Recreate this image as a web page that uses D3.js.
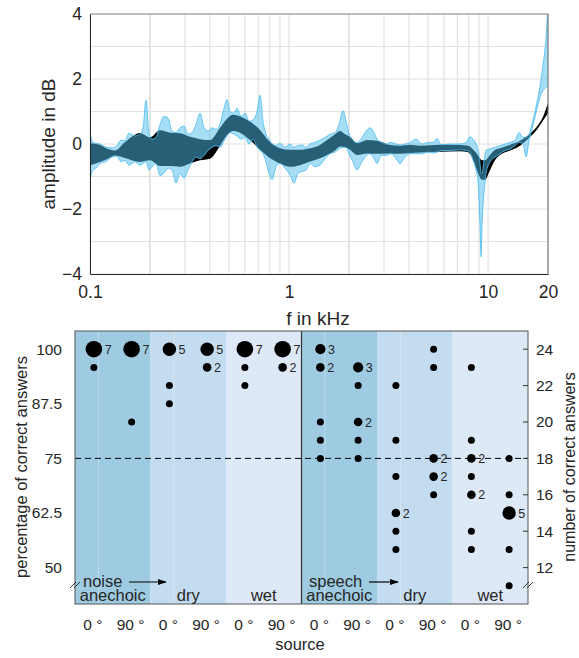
<!DOCTYPE html>
<html><head><meta charset="utf-8">
<script src="https://cdn.jsdelivr.net/npm/d3@7"></script>
<style>
body{margin:0;background:#fff}
text{font-family:"Liberation Sans",Arial,Helvetica,sans-serif;fill:#262626}
</style>
</head><body>
<svg id="c" width="579" height="658"></svg>
<script>
// ---------- top chart data (f in kHz, amplitude in dB) ----------
const blackFreq = [0.1,0.1123,0.1231,0.1336,0.1500,0.1784,0.2002,0.2248,0.2523,0.2833,0.3181,0.3571,0.4009,0.4501,0.4881,0.5231,0.5673,0.6368,0.7149,0.7842,0.9010,1.0116,1.1357,1.2750,1.4313,1.5523,1.7026,1.8040,1.9114,2.0252,2.1962,2.4660,2.7685,3.2168,3.6113,4.0542,4.5515,5.7363,7.2296,7.9316,8.5016,8.9058,9.3250,9.6540,10.234,10.845,11.489,12.899,14.482,16.255,17.630,18.899,20.0];
const blackHi = [0.02,-0.03,-0.15,-0.2,0.06,0.34,0.2,0.42,0.35,0.33,0.22,0.15,0.12,0.5,0.78,0.9,0.85,0.69,0.43,0.12,-0.13,-0.18,-0.18,-0.13,-0.03,0.12,0.3,0.4,0.3,0.22,0.02,0.12,0.1,-0.03,-0.05,-0.02,-0.05,-0.02,-0.03,-0.05,-0.2,-0.35,-0.5,-0.5,-0.34,-0.18,-0.13,-0.02,0.1,0.32,0.55,0.85,1.26];
const blackLo = [-0.65,-0.55,-0.45,-0.35,-0.43,-0.55,-0.5,-0.68,-0.68,-0.7,-0.6,-0.5,-0.45,-0.05,0.28,0.4,0.35,0.12,-0.18,-0.39,-0.6,-0.7,-0.65,-0.54,-0.44,-0.34,-0.2,-0.08,-0.1,-0.18,-0.34,-0.29,-0.3,-0.29,-0.3,-0.28,-0.26,-0.24,-0.22,-0.25,-0.55,-0.9,-1.1,-1.1,-0.8,-0.49,-0.34,-0.2,-0.05,0.22,0.45,0.72,0.95];

const blueFreq = [0.1,0.1035,0.1072,0.1123,0.1204,0.1290,0.1367,0.1431,0.1500,0.1570,0.1684,0.1784,0.1847,0.1912,0.1980,0.2049,0.2146,0.2248,0.2354,0.2466,0.2582,0.2705,0.2833,0.2968,0.3108,0.3256,0.3410,0.3571,0.3741,0.3918,0.4103,0.4297,0.4501,0.4714,0.4881,0.5053,0.5292,0.5481,0.5740,0.6011,0.6295,0.6593,0.6905,0.7149,0.7401,0.7662,0.7933,0.8213,0.8603,0.9010,0.9547,1.0116,1.0595,1.1097,1.1623,1.2174,1.2750,1.3509,1.4313,1.5166,1.6069,1.7026,1.7834,1.8679,1.9337,2.0023,2.0969,2.1962,2.3002,2.4089,2.5524,2.6734,2.7685,2.8997,3.0722,3.2543,3.4479,3.6113,3.8264,4.0542,4.3458,4.6580,4.9940,5.2920,5.5425,5.8028,6.4398,7.2296,7.7485,8.1163,8.4034,8.7012,8.9058,9.1118,9.2176,9.3250,9.5432,9.7700,10.234,10.845,11.489,12.174,12.899,13.668,14.315,14.995,15.525,16.069,16.832,17.630,18.250,18.899,19.566,20.0];
const blueHi = [0.38,0.05,0.02,0.0,-0.1,-0.12,-0.05,0.12,0.1,0.33,0.25,0.3,0.5,1.35,0.3,0.15,0.2,0.6,0.85,0.79,0.4,0.35,0.5,0.55,0.3,0.35,0.6,0.95,0.5,0.4,0.5,0.45,0.6,1.1,1.37,1.0,0.95,1.1,0.85,0.95,0.7,0.75,1.0,1.5,0.7,0.3,0.15,0.0,-0.05,0.02,-0.1,0.0,-0.1,-0.05,-0.03,-0.1,0.0,0.05,0.12,0.2,0.3,0.35,0.6,1.02,0.7,0.3,0.1,0.05,0.15,0.35,0.5,0.35,0.15,0.05,0.0,0.05,0.0,-0.03,0.0,0.05,0.15,0.0,0.05,0.05,0.17,-0.02,0.0,0.0,0.05,0.22,0.15,0.0,-0.2,-0.6,-0.9,-0.9,-0.5,-0.2,-0.15,-0.1,-0.05,0.0,0.05,0.12,0.35,0.2,0.2,0.3,0.74,1.3,1.8,2.45,3.3,4.3];
const blueLo = [-1.1,-0.8,-0.74,-0.6,-0.54,-0.4,-0.38,-0.54,-0.5,-0.65,-0.55,-0.65,-0.6,-0.55,-0.8,-0.7,-0.6,-0.97,-0.9,-0.74,-0.8,-1.2,-0.9,-1.05,-0.8,-0.55,-0.4,-0.45,-0.35,-0.2,-0.1,-0.05,-0.1,0.1,0.25,0.35,0.3,0.25,0.15,0.2,0.0,0.15,-0.1,-0.2,-0.3,-0.55,-0.9,-1.1,-0.7,-0.6,-0.75,-0.95,-1.2,-0.9,-0.85,-0.8,-0.6,-0.7,-0.65,-0.45,-0.3,-0.25,-0.15,-0.1,-0.1,-0.3,-0.55,-0.8,-0.6,-0.4,-0.3,-0.45,-0.6,-0.35,-0.35,-0.3,-0.45,-0.6,-0.4,-0.3,-0.3,-0.3,-0.25,-0.28,-0.25,-0.2,-0.2,-0.18,-0.2,-0.25,-0.5,-0.8,-1.2,-2.5,-3.47,-2.5,-1.5,-0.9,-0.55,-0.4,-0.3,-0.2,-0.15,-0.05,0.05,0.0,-0.39,0.1,0.6,1.1,1.45,1.65,1.75,1.8];

const fTicks = [0.1,1,10,20];
const dbTicks = [-4,-2,0,2,4];

// ---------- bottom chart data ----------
const xTickLabels = ["0 °","90 °","0 °","90 °","0 °","90 °","0 °","90 °","0 °","90 °","0 °","90 °"];
const environments = ["anechoic","dry","wet","anechoic","dry","wet"];
const stimuli = ["noise","speech"];
// [column, number of correct answers, count of participants]
const noisePoints = [[1,24,7],[1,23,1],[2,24,7],[2,20,1],[3,24,5],[3,22,1],[3,21,1],[4,24,5],[4,23,2],[5,24,7],[5,23,1],[5,22,1],[6,24,7],[6,23,2]];
const speechPoints = [[7,24,3],[7,23,2],[7,20,1],[7,19,1],[7,18,1],
  [8,23,3],[8,22,1],[8,20,2],[8,19,1],[8,18,1],
  [9,22,1],[9,19,1],[9,17,1],[9,15,2],[9,14,1],[9,13,1],
  [10,24,1],[10,23,1],[10,18,2],[10,17,2],[10,16,1],
  [11,23,1],[11,19,1],[11,18,2],[11,17,1],[11,16,2],[11,14,1],[11,13,1],
  [12,18,1],[12,16,1],[12,15,5],[12,13,1],[12,11,1]];
const leftTicks = [24,21,18,15,12];
const leftTickLabels = ["100","87.5","75","62.5","50"];
const rightTicks = [12,14,16,18,20,22,24];
const chanceLevel = 18;

const svg = d3.select("#c");

// ================= TOP CHART =================
const x = d3.scaleLog().domain([0.1,20]).range([90,548]);
const y = d3.scaleLinear().domain([-4,4]).range([274,14]);

const gridF = [];
for (let k=1;k<=10;k++) gridF.push(+(k/10).toFixed(1));
for (let k=2;k<=10;k++) gridF.push(k);
gridF.push(20);
const topG = svg.append("g");
topG.selectAll(".vg").data(gridF).join("line")
  .attr("x1",d=>x(d)).attr("x2",d=>x(d)).attr("y1",14).attr("y2",274)
  .attr("stroke",d=>(d===0.2||d===2)?"#d2d2d2":"#e2e2e2").attr("stroke-width",1.2);
topG.selectAll(".hg").data(d3.range(-4,5)).join("line")
  .attr("x1",90).attr("x2",548).attr("y1",d=>y(d)).attr("y2",d=>y(d))
  .attr("stroke","#e2e2e2").attr("stroke-width",1.2);

svg.append("clipPath").attr("id","clipTop").append("rect")
  .attr("x",90).attr("y",14).attr("width",458).attr("height",260);
const plot = topG.append("g").attr("clip-path","url(#clipTop)");

const blackData = blackFreq.map((f,i)=>({f,hi:blackHi[i],lo:blackLo[i]}));
const blueData = blueFreq.map((f,i)=>({f,hi:blueHi[i],lo:blueLo[i]}));
const area = d3.area().x(d=>x(d.f)).y0(d=>y(d.lo)).y1(d=>y(d.hi)).curve(d3.curveMonotoneX);
plot.append("path").datum(blackData).attr("d",area).attr("fill","#000");
plot.append("path").datum(blueData).attr("d",area).attr("fill","rgb(77,190,238)").attr("fill-opacity",0.5);
const lineHi = d3.line().x(d=>x(d.f)).y(d=>y(d.hi)).curve(d3.curveMonotoneX);
const lineLo = d3.line().x(d=>x(d.f)).y(d=>y(d.lo)).curve(d3.curveMonotoneX);
plot.append("path").datum(blueData).attr("d",lineHi).attr("fill","none").attr("stroke","rgb(77,190,238)").attr("stroke-width",1).attr("stroke-opacity",0.85);
plot.append("path").datum(blueData).attr("d",lineLo).attr("fill","none").attr("stroke","rgb(77,190,238)").attr("stroke-width",1).attr("stroke-opacity",0.85);

// box
topG.append("line").attr("x1",90).attr("x2",548).attr("y1",14).attr("y2",14).attr("stroke","#8a8a8a");
topG.append("line").attr("x1",548).attr("x2",548).attr("y1",14).attr("y2",274).attr("stroke","#6a6a6a");

const yAx = topG.append("g").attr("transform","translate(90,0)")
  .call(d3.axisLeft(y).tickValues(dbTicks).tickSize(0).tickPadding(8));
yAx.select(".domain").attr("stroke","#262626");
yAx.selectAll("text").style("font-size","17.5px").attr("fill","#262626");
const xAx = topG.append("g").attr("transform","translate(0,274)")
  .call(d3.axisBottom(x).tickValues(fTicks).tickFormat(d=>String(d)).tickSize(0).tickPadding(12));
xAx.select(".domain").attr("stroke","#262626");
xAx.selectAll("text").style("font-size","17.5px").attr("fill","#262626");

topG.append("text").attr("x",318).attr("y",325).attr("text-anchor","middle")
  .style("font-size","19px").text("f in kHz");
topG.append("text").attr("transform","translate(48,144) rotate(-90)").attr("text-anchor","middle")
  .attr("dy","0.35em").style("font-size","19px").text("amplitude in dB");

// ================= BOTTOM CHART =================
const bx = d3.scaleLinear().domain([0.5,12.5]).range([75,528]);
const by = d3.scaleLinear().domain([10,25]).range([604,331]);
const envColor = {anechoic:"#9ecbe1", dry:"#c4dcef", wet:"#dde9f6"};
const bot = svg.append("g");

bot.selectAll(".band").data(environments).join("rect")
  .attr("x",(d,i)=>bx(0.5+2*i)).attr("width",(d,i)=>bx(2.5+2*i)-bx(0.5+2*i))
  .attr("y",331).attr("height",604-331).attr("fill",d=>envColor[d]);
bot.selectAll(".seam").data([1,3,7,9]).join("line")
  .attr("x1",d=>bx(d+0.12)).attr("x2",d=>bx(d+0.12)).attr("y1",331).attr("y2",604)
  .attr("stroke","#fff").attr("stroke-opacity",0.3);

bot.append("line").attr("x1",75).attr("x2",528).attr("y1",by(chanceLevel)).attr("y2",by(chanceLevel))
  .attr("stroke","#000").attr("stroke-width",1).attr("stroke-dasharray","6,4");
bot.append("line").attr("x1",bx(6.5)).attr("x2",bx(6.5)).attr("y1",331).attr("y2",604)
  .attr("stroke","#333").attr("stroke-width",1.2);

const rScale = d3.scaleLinear().domain([1,7]).range([3.5,8.3]);
const allPoints = noisePoints.concat(speechPoints);
bot.selectAll(".dot").data(allPoints).join("circle")
  .attr("cx",d=>bx(d[0])).attr("cy",d=>by(d[1])).attr("r",d=>rScale(d[2])).attr("fill","#000");
bot.selectAll(".cnt").data(allPoints.filter(d=>d[2]>1)).join("text")
  .attr("x",d=>bx(d[0])+rScale(d[2])+2.5).attr("y",d=>by(d[1])).attr("dy","0.36em")
  .style("font-size","12.5px").text(d=>d[2]);

bot.append("rect").attr("x",75).attr("y",331).attr("width",453).attr("height",273)
  .attr("fill","none").attr("stroke","#555").attr("stroke-width",1);

bot.selectAll(".rt").data(rightTicks).join("line")
  .attr("x1",523).attr("x2",528).attr("y1",d=>by(d)).attr("y2",d=>by(d)).attr("stroke","#333");
bot.selectAll(".rtl").data(rightTicks).join("text")
  .attr("x",536).attr("y",d=>by(d)).attr("dy","0.35em").style("font-size","15.5px").text(d=>d);
bot.selectAll(".ltl").data(leftTicks).join("text")
  .attr("x",62).attr("y",d=>by(d)).attr("dy","0.35em").attr("text-anchor","end")
  .style("font-size","15.5px").text((d,i)=>leftTickLabels[i]);
bot.selectAll(".xtl").data(xTickLabels).join("text")
  .attr("x",(d,i)=>bx(i+1)-1).attr("y",630).attr("text-anchor","middle")
  .style("font-size","15.5px").text(d=>d);

bot.selectAll(".envl").data(environments).join("text")
  .attr("x",(d,i)=>bx(1.5+2*i)).attr("y",601).attr("text-anchor","middle")
  .style("font-size","16.5px").text(d=>d);
const stimX = [83,309];
const arrowX = [[129,166],[369,398]];
bot.selectAll(".stim").data(stimuli).join("text")
  .attr("x",(d,i)=>stimX[i]).attr("y",587).style("font-size","16.5px").text(d=>d);
svg.append("defs").append("marker").attr("id","arr").attr("viewBox","0 0 10 10")
  .attr("refX",9).attr("refY",5).attr("markerWidth",9).attr("markerHeight",9)
  .attr("markerUnits","userSpaceOnUse").attr("orient","auto")
  .append("path").attr("d","M0,1.5 L10,5 L0,8.5 Z").attr("fill","#000");
bot.selectAll(".arrow").data(arrowX).join("line")
  .attr("x1",d=>d[0]).attr("x2",d=>d[1]).attr("y1",582).attr("y2",582)
  .attr("stroke","#000").attr("stroke-width",1.2).attr("marker-end","url(#arr)");

[[75,585],[528,585]].forEach(([cx,cy])=>{
  [-2,2].forEach(o=>{
    bot.append("line").attr("x1",cx+o-3).attr("y1",cy+3).attr("x2",cx+o+3).attr("y2",cy-3)
      .attr("stroke","#333").attr("stroke-width",1);
  });
});

bot.append("text").attr("transform","translate(21,467) rotate(-90)").attr("text-anchor","middle")
  .attr("dy","0.35em").style("font-size","16.5px").text("percentage of correct answers");
bot.append("text").attr("transform","translate(569,467) rotate(-90)").attr("text-anchor","middle")
  .attr("dy","0.35em").style("font-size","16px").text("number of correct answers");
bot.append("text").attr("x",300).attr("y",650).attr("text-anchor","middle")
  .style("font-size","16.5px").text("source");
</script>
</body></html>
